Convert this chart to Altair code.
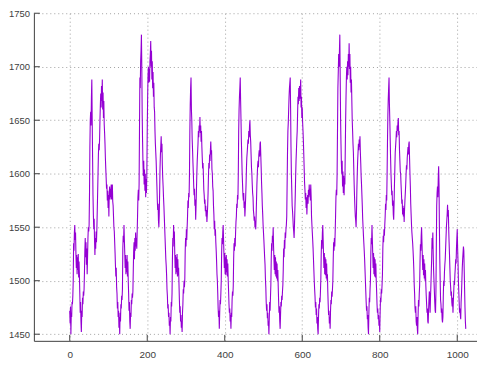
import altair as alt
import pandas as pd

seg_a = [1472,1460,1476,1450,1470,1466,1480,1478,1486,1500,
         1535,1528,1545,1552,1538,1545,1525,1512,1524,1506,
         1522,1510,1525,1503,1518,1505,1488,1470,1480,1462,
         1452,1472,1466,1484,1478,1490,1486,1492,1508,1528,
         1540,1522,1536,1515,1530,1506,1522,1540,1550,1546,
         1552,1580,1625,1650,1658,1645,1672,1688,1650,1615,
         1580,1562,1548,1558,1538,1524,1540,1530,1546,1536,
         1548,1565,1582,1600,1618,1628,1622,1632,1650,1664,
         1675,1662,1682,1668,1688,1660,1676,1652,1668,1646,
         1638,1628,1615,1605,1596,1586,1590,1575,1584,1568,
         1580,1560,1582,1588,1576,1586,1578,1590,1576,1584,
         1590,1574,1570,1560,1550,1546,1536,1526,1514,1504,
         1512,1494,1488,1474,1480,1466,1472,1456]
seg_b = [1466,1450,
         1470,1462,1478,1474,1486,1482,1492,1530,1542,1536,
         1552,1538,1526,1512,1524,1506,1520,1508,1524,1504,
         1518,1500,1488,1472,1480,1462,1455,1470,1466,1482,
         1478,1488,1484,1490,1510,1528,1536,1520,1540,1528,
         1545,1532,1540,1530,1545,1560,1578,1585,1575,1590,
         1640,1690,1680,1705,1715,1730,1700,1655,1630,1610,
         1598,1612,1590,1604,1584,1600,1578,1595,1582,1600,
         1640,1670,1692,1700,1685,1698,1686,1705,1712,1724,
         1700,1715,1688,1705,1680,1695,1672,1685,1662,1658,
         1640,1628,1620,1612,1600,1588,1575,1566,1572,1556,
         1550,1562,1582,1605,1618,1626,1635,1620,1628,1608,
         1596,1588,1578,1570,1560,1550,1540,1530,1520,1514,
         1505,1492,1486,1474,1478,1466]
seg_c = [1470,1458,1462,1450,
         1466,1462,1480,1476,1488,1520,1540,1532,1552,1540,
         1546,1526,1512,1524,1506,1522,1508,1525,1504,1520,
         1505,1512,1496,1482,1470,1476,1462,1468,1456,1462,
         1452,1470,1478,1492,1488,1500,1494,1502,1528,1540,
         1532,1548,1538,1550,1560,1575,1568,1582,1578,1600,
         1640,1665,1680,1690,1660,1650,1632,1622,1610,1600,
         1588,1580,1586,1570,1576,1557,1570,1585,1600,1612,
         1620,1628,1640,1634,1645,1640,1653,1638,1645,1630,
         1640,1625,1615,1605,1610,1598,1585,1580,1572,1576,
         1565,1570,1560,1566,1555,1562,1570,1582,1598,1610,
         1605,1618,1612,1622,1630,1618,1622,1604,1600,1588,
         1584,1570,1562,1548,1556,1542,1548,1536,1528,1518,
         1506,1500,1488,1474]
seg_d = [1466,1472,1455,1470,1482,1478,
         1488,1500,1526,1540,1534,1546,1552,1538,1524,1512,
         1526,1506,1522,1505,1524,1508,1520,1504,1516,1500,
         1490,1478,1470,1474,1462,1468,1455,1470,1466,1482,
         1490,1486,1495,1520,1535,1528,1540,1532,1545,1555,
         1560,1572,1568,1580,1576,1600,1640,1660,1672,1680,
         1690,1668,1650,1630,1615,1600,1590,1580,1575,1582,
         1568,1574,1560,1568,1578,1590,1605,1615,1620,1626,
         1632,1628,1640,1634,1645,1650,1636,1630,1618,1606,
         1600,1590,1582,1578,1566,1562,1556,1560,1550,1556,
         1548,1560,1575,1590,1600,1608,1612,1606,1618,1622,
         1616,1628,1630,1618,1606,1592,1582,1570,1562,1552,
         1545,1538,1530,1522,1515,1502,1494,1480,1472,1478,
         1465,1470]
seg_e = [1458,1462,1450,1466,1480,1472,1484,1496,
         1520,1535,1528,1542,1536,1550,1532,1520,1510,1524,
         1506,1522,1504,1518,1502,1516,1500,1510,1495,1482,
         1470,1476,1462,1455,1468,1480,1476,1486,1482,1490,
         1496,1510,1530,1522,1538,1530,1545,1540,1548,1552,
         1560,1590,1620,1640,1648,1660,1672,1680,1685,1690,
         1660,1625,1600,1585,1570,1565,1558,1550,1546,1540,
         1552,1566,1580,1598,1612,1622,1632,1640,1656,1672,
         1665,1680,1668,1682,1670,1678,1688,1662,1672,1652,
         1662,1648,1640,1630,1618,1605,1592,1585,1576,1582,
         1568,1578,1562,1574,1580,1572,1585,1578,1590,1580,
         1586,1575,1590,1578,1560,1552,1545,1538,1530,1520,
         1510,1500,1492,1485,1475,1480,1468,1474,1460,1466]
seg_f = [1455,1450,1466,1478,1474,1484,1480,1490,1502,1525,
         1538,1530,1545,1552,1538,1524,1512,1526,1506,1522,
         1505,1520,1502,1516,1500,1506,1490,1478,1468,1472,
         1460,1466,1455,1472,1482,1478,1490,1485,1492,1500,
         1520,1536,1528,1540,1532,1545,1560,1578,1585,1580,
         1600,1640,1680,1695,1712,1700,1715,1730,1690,1650,
         1628,1610,1600,1612,1588,1602,1582,1598,1580,1596,
         1590,1620,1650,1672,1690,1700,1688,1705,1692,1712,
         1700,1722,1698,1712,1685,1700,1676,1688,1668,1650,
         1640,1628,1620,1605,1590,1578,1568,1560,1556,1550,
         1565,1585,1600,1612,1620,1628,1622,1632,1625,1635,
         1620,1610,1598,1590,1580,1570,1558,1550,1542,1535,
         1528,1520,1510,1500,1490,1480,1472,1476]
seg_g = [1464,1468,
         1456,1450,1470,1484,1480,1492,1500,1525,1540,1534,
         1552,1538,1524,1512,1526,1506,1522,1504,1520,1503,
         1516,1500,1490,1478,1470,1474,1464,1468,1458,1462,
         1452,1470,1484,1480,1492,1488,1496,1506,1530,1542,
         1536,1548,1542,1552,1560,1572,1566,1580,1575,1600,
         1630,1655,1670,1680,1690,1665,1650,1632,1615,1600,
         1590,1580,1584,1570,1575,1562,1557,1572,1590,1605,
         1620,1626,1632,1640,1634,1645,1640,1648,1652,1636,
         1640,1622,1612,1602,1600,1590,1582,1572,1576,1562,
         1570,1560,1568,1555,1566,1575,1582,1590,1600,1608,
         1604,1615,1620,1625,1618,1628,1630,1614,1600,1588,
         1572,1562,1552,1545,1540,1535,1528,1520,1510,1496,
         1488,1475,1470,1476,1462,1458]
seg_h = [1466,1455,1450,1468,
         1482,1476,1488,1496,1518,1534,1528,1542,1550,1536,
         1522,1510,1524,1505,1520,1502,1516,1500,1510,1495,
         1486,1478,1470,1474,1462,1460,1472,1482,1490,1486,
         1470,1484,1495,1508,1520,1540,1530,1545,1525,1510,
         1500,1490,1480,1472,1470,1490,1530,1570,1582,1588,
         1578,1596,1607,1590,1550,1520,1500,1482,1478,1470,
         1474,1464,1461,1466,1485,1500,1495,1508,1515,1520,
         1530,1540,1550,1556,1562,1571,1560,1566,1548,1536,
         1525,1512,1500,1494,1486,1490,1480,1476,1484,1470,
         1482,1490,1500,1496,1506,1512,1520,1516,1530,1540,
         1548,1530,1518,1500,1490,1480,1470,1474,1468,1464,
         1480,1488,1500,1512,1520,1526,1532,1528,1510,1492,
         1475,1462,1455]

values = seg_a + seg_b + seg_c + seg_d + seg_e + seg_f + seg_g + seg_h
x_ticks = [0, 200, 400, 600, 800, 1000]
y_ticks = [1450, 1500, 1550, 1600, 1650, 1700, 1750]
x_domain = [-92.5, 1051]
y_domain = [1443.8, 1750]

df = pd.DataFrame({"x": list(range(len(values))), "y": values})
W, H = 445, 329

AXIS_COL = "#404040"
xscale = alt.Scale(domain=x_domain, nice=False, zero=False)
yscale = alt.Scale(domain=y_domain, nice=False, zero=False)

common = dict(title=None, grid=True, gridDash=[1, 3], gridColor="#a0a0a0",
              ticks=False, tickSize=0, domainColor=AXIS_COL, labelColor=AXIS_COL,
              labelFont="Liberation Sans", format="d")
x_axis = alt.Axis(values=x_ticks, labelPadding=9, labelFontSize=10, **common)
y_axis = alt.Axis(values=y_ticks, labelPadding=4.5, labelFontSize=9.5, **common)

line = alt.Chart(df).mark_line(color="#9400d3", strokeWidth=1.1, clip=True).encode(
    x=alt.X("x:Q", scale=xscale, axis=x_axis),
    y=alt.Y("y:Q", scale=yscale, axis=y_axis),
)

xt = alt.Chart(pd.DataFrame({"x": x_ticks})).mark_rule(color=AXIS_COL).encode(
    x=alt.X("x:Q", scale=xscale, axis=x_axis), y=alt.value(H), y2=alt.value(H - 6)
)
yt = alt.Chart(pd.DataFrame({"y": y_ticks})).mark_rule(color=AXIS_COL).encode(
    y=alt.Y("y:Q", scale=yscale, axis=y_axis), x=alt.value(0), x2=alt.value(6)
)

chart = alt.layer(line, xt, yt).properties(
    width=W, height=H,
    padding={"left": 26, "top": 4.5, "right": 0, "bottom": 22},
    autosize=alt.AutoSizeParams(type="none"),
).configure_view(stroke=None)

chart.save("out.html", embed_options={"renderer": "svg", "actions": False})
